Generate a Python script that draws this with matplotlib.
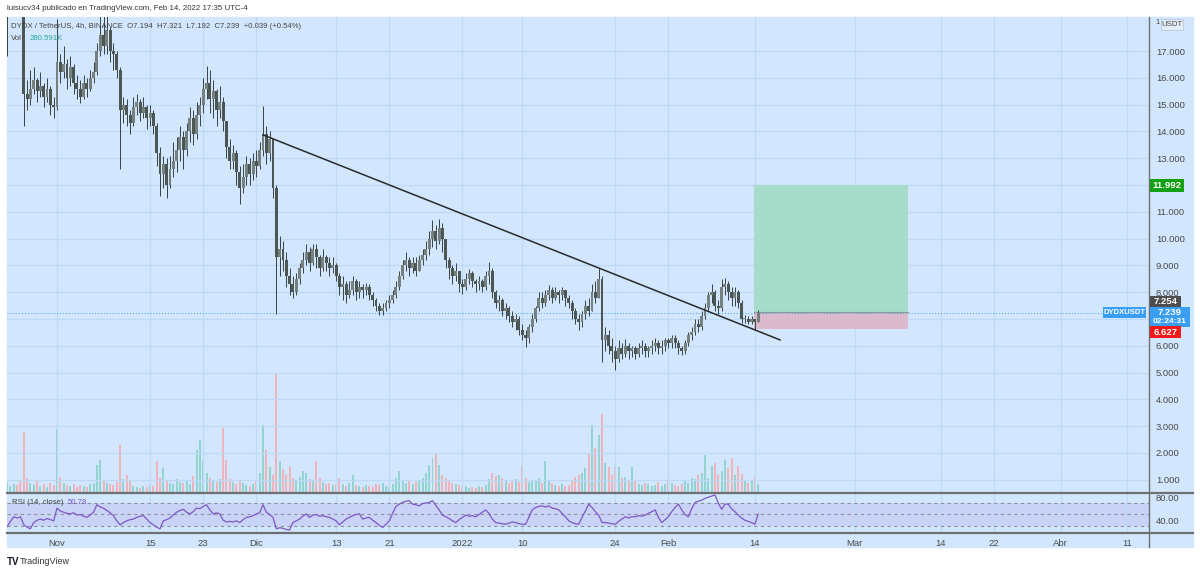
import numpy as np
import matplotlib
matplotlib.use('Agg')
import matplotlib.pyplot as plt
from matplotlib.patches import Rectangle
from matplotlib.lines import Line2D

plt.rcParams['font.family'] = ['Liberation Sans', 'DejaVu Sans']

W, H = 1200, 574

# ---------------- data (12h candles, from Oct 24 12:00) ----------------
close = [18.6, 19.2, 19.4, 18.9, 18.7, 15.4, 15.2, 15.6, 15.9, 15.5, 15.7, 15.3, 15.6, 15.0, 14.9,
         16.6, 16.2, 16.5, 16.0, 16.4, 15.8, 15.6, 15.3, 15.8, 15.6, 16.0, 16.2, 17.0, 17.6, 17.2,
         17.8, 17.0, 16.9, 16.3, 14.8, 15.0, 14.6, 14.3, 14.9, 15.1, 14.7, 14.9, 14.5, 14.7, 14.2,
         13.2, 12.4, 12.8, 12.0, 12.6, 12.9, 13.3, 13.8, 13.3, 14.0, 14.5, 13.9, 14.6, 15.0, 15.6,
         15.8, 15.2, 15.5, 14.8, 15.1, 14.4, 13.4, 12.9, 13.2, 12.5, 11.9, 12.3, 12.8, 12.4, 12.9,
         12.7, 13.3, 13.9, 13.2, 13.7, 11.9, 9.3, 9.6, 9.2, 8.6, 8.3, 8.0, 8.5, 8.9, 9.2,
         9.5, 9.1, 9.6, 9.3, 8.9, 9.3, 9.1, 8.9, 9.0, 8.6, 8.2, 8.3, 7.9, 8.1, 8.4,
         8.0, 8.2, 8.1, 8.2, 7.9, 7.7, 7.5, 7.3, 7.4, 7.6, 7.7, 7.9, 8.2, 8.6, 9.0,
         9.2, 8.9, 9.1, 8.8, 9.2, 9.4, 9.6, 10.0, 10.3, 9.9, 10.4, 10.0, 9.2, 8.9, 8.6,
         8.8, 8.3, 8.2, 8.5, 8.7, 8.4, 8.3, 8.4, 8.2, 8.6, 8.8, 8.0, 7.6, 7.7, 7.3,
         7.4, 7.1, 6.9, 7.0, 6.6, 6.4, 6.3, 6.7, 7.0, 7.4, 7.8, 7.6, 7.9, 8.1, 7.8,
         8.0, 7.9, 8.1, 7.8, 7.6, 7.3, 7.0, 6.9, 7.2, 7.5, 7.3, 8.0, 7.8, 8.5, 6.2,
         6.4, 6.0, 5.8, 5.5, 5.9, 5.7, 6.0, 5.8, 5.9, 5.7, 5.9, 6.0, 5.8, 5.9, 6.0,
         6.1, 5.9, 6.0, 6.2, 6.1, 6.3, 6.1, 5.9, 5.8, 6.1, 6.4, 6.5, 6.8, 6.7, 7.1,
         7.4, 7.9, 8.0, 7.5, 7.4, 8.2, 8.3, 8.0, 7.8, 8.0, 7.6, 7.0, 7.0, 6.9, 7.0,
         6.9, 7.239]
high = [19.0, 19.6, 19.8, 19.5, 19.1, 17.5, 15.9, 16.3, 16.4, 16.0, 16.2, 15.8, 16.0, 15.7, 15.3,
        18.2, 16.9, 17.2, 16.7, 16.8, 16.5, 16.1, 15.9, 16.1, 16.0, 16.3, 16.6, 17.3, 18.3, 18.3,
        18.3, 17.9, 17.3, 17.0, 16.4, 15.3, 15.2, 14.8, 15.3, 15.4, 15.2, 15.3, 15.0, 15.0, 14.8,
        14.3, 13.4, 13.1, 13.0, 13.1, 13.6, 13.8, 14.2, 14.0, 14.3, 14.9, 14.8, 15.1, 15.3, 16.0,
        16.45, 16.3, 15.9, 15.6, 15.7, 15.3, 14.4, 13.7, 13.5, 13.3, 12.7, 12.8, 13.1, 13.0, 13.2,
        13.3, 13.6, 14.95, 14.2, 14.0, 13.0, 12.0, 10.1, 9.9, 9.5, 8.9, 8.6, 8.7, 9.1, 9.5,
        9.8, 9.7, 9.8, 9.8, 9.4, 9.6, 9.4, 9.3, 9.3, 9.1, 8.7, 8.6, 8.4, 8.4, 8.6,
        8.5, 8.4, 8.3, 8.35, 8.3, 8.0, 7.8, 7.6, 7.6, 7.7, 7.9, 8.1, 8.4, 8.8, 9.2,
        9.5, 9.3, 9.3, 9.3, 9.4, 9.6, 9.9, 10.3, 10.7, 10.5, 10.75, 10.6, 10.0, 9.3, 9.0,
        9.1, 8.8, 8.5, 8.7, 8.85, 8.8, 8.5, 8.6, 8.5, 8.8, 9.13, 8.9, 8.1, 7.9, 7.8,
        7.6, 7.5, 7.3, 7.2, 7.1, 6.8, 6.6, 6.8, 7.2, 7.5, 8.0, 8.0, 8.1, 8.25, 8.2,
        8.2, 8.1, 8.2, 8.1, 7.9, 7.7, 7.4, 7.2, 7.3, 7.7, 7.8, 8.3, 8.4, 8.9, 8.6,
        6.7, 6.6, 6.3, 6.0, 6.2, 6.1, 6.25, 6.1, 6.0, 6.0, 6.1, 6.2, 6.1, 6.0, 6.2,
        6.3, 6.2, 6.2, 6.3, 6.3, 6.4, 6.4, 6.2, 6.0, 6.2, 6.5, 6.7, 7.0, 7.0, 7.3,
        7.6, 8.0, 8.3, 8.1, 7.7, 8.5, 8.53, 8.4, 8.2, 8.2, 8.1, 7.7, 7.15, 7.1, 7.1,
        7.0, 7.321]
low = [16.8, 18.4, 18.9, 18.6, 18.4, 14.2, 14.8, 15.0, 15.4, 15.1, 15.3, 14.9, 15.1, 14.6, 14.5,
       14.8, 15.8, 16.0, 15.6, 15.7, 15.4, 15.2, 15.06, 15.2, 15.3, 15.5, 15.8, 16.1, 16.8, 16.9,
       16.9, 16.6, 16.3, 16.0, 12.6, 14.3, 14.2, 13.9, 14.2, 14.6, 14.4, 14.5, 14.1, 14.2, 13.9,
       12.7, 11.6, 11.9, 11.5, 11.9, 12.3, 12.5, 12.9, 12.6, 13.1, 13.6, 13.5, 13.7, 14.2, 14.7,
       15.2, 14.7, 14.5, 14.2, 14.5, 14.0, 13.0, 12.6, 12.6, 12.0, 11.3, 11.7, 12.0, 12.0, 12.2,
       12.3, 12.6, 13.1, 12.8, 12.9, 11.5, 7.2, 8.6, 8.8, 8.2, 7.9, 7.8, 7.9, 8.3, 8.7,
       9.0, 8.8, 9.0, 8.9, 8.6, 8.8, 8.8, 8.6, 8.7, 8.4, 7.9, 7.7, 7.6, 7.8, 7.9,
       7.7, 7.8, 7.8, 7.9, 7.7, 7.5, 7.3, 7.15, 7.15, 7.3, 7.4, 7.6, 7.8, 8.1, 8.5,
       8.8, 8.6, 8.7, 8.6, 8.8, 9.0, 9.2, 9.4, 9.7, 9.6, 9.8, 9.5, 8.9, 8.5, 8.3,
       8.4, 8.0, 7.95, 8.1, 8.3, 8.2, 8.0, 8.1, 8.0, 8.1, 8.3, 7.8, 7.4, 7.3, 7.1,
       7.0, 6.9, 6.7, 6.6, 6.4, 6.2, 5.96, 6.1, 6.5, 6.9, 7.3, 7.4, 7.5, 7.7, 7.6,
       7.7, 7.6, 7.7, 7.5, 7.4, 7.0, 6.8, 6.6, 6.7, 7.0, 7.1, 7.3, 7.6, 7.8, 5.4,
       5.8, 5.7, 5.4, 5.1, 5.4, 5.5, 5.6, 5.5, 5.6, 5.5, 5.6, 5.7, 5.6, 5.6, 5.7,
       5.8, 5.7, 5.7, 5.8, 5.9, 5.9, 5.9, 5.7, 5.65, 5.7, 6.0, 6.2, 6.4, 6.5, 6.6,
       7.0, 7.3, 7.6, 7.3, 7.2, 7.3, 7.9, 7.7, 7.5, 7.5, 7.4, 6.85, 6.85, 6.8, 6.8,
       6.6, 6.9]
first_open = 18.3
volume = [1100, 700, 900, 800, 1200, 6100, 1500, 1000, 800, 1300, 700, 900, 600, 1000, 800,
          6400, 1600, 1000, 800, 700, 900, 600, 800, 700, 600, 900, 1000, 2800, 3300, 1300,
          1000, 900, 800, 1100, 4800, 1400, 1800, 1200, 700, 600, 500, 700, 600, 800, 700,
          3200, 1500, 2500, 1200, 1000, 900, 1400, 1100, 1000, 1300, 900, 1700, 4300, 5300, 3200,
          2000, 1500, 1200, 1100, 1400, 6500, 3300, 1400, 1100, 900, 1300, 1000, 800, 700, 900,
          1200, 2000, 6800, 4300, 2600, 1800, 11900, 3200, 2400, 1800, 2600, 1500, 1200, 1600, 2200,
          2000, 1400, 1200, 3200, 1500, 1100, 900, 1000, 800, 900, 1500, 900, 700, 1000, 1800,
          800, 700, 600, 800, 700, 600, 900, 800, 1000, 700, 600, 900, 1500, 2200, 1300,
          1000, 1200, 900, 1100, 1300, 1500, 2000, 2800, 3500, 4000, 2800, 1800, 1500, 1200, 1000,
          900, 800, 600, 700, 500, 600, 500, 700, 600, 800, 1400, 2000, 1700, 1800, 1500,
          1200, 1000, 1200, 1400, 1100, 2700, 1500, 1100, 1300, 1200, 1500, 1000, 3200, 1300, 1000,
          800, 700, 900, 700, 800, 1200, 1600, 1800, 2000, 2500, 4000, 6800, 4500, 5800, 7900,
          3000, 2600, 1800, 2600, 2600, 1500, 1600, 1200, 2600, 1300, 900, 800, 1000, 900, 700,
          800, 1100, 700, 900, 1200, 1000, 800, 700, 900, 1200, 1000, 1500, 1400, 1800, 2000,
          3800, 1500, 2700, 3000, 1800, 2200, 3300, 2500, 3500, 1800, 2700, 1900, 1200, 1000, 1300,
          1600, 900]
rsi = [29, 38, 46, 44, 46, 32, 28, 25, 36, 40, 42, 40, 43, 41, 39,
       61, 56, 54, 52, 51, 53, 49, 50, 47, 45, 49, 54, 67, 63, 61,
       57, 53, 48, 39, 32, 36, 39, 41, 42, 45, 47, 48, 42, 36, 32,
       28, 25, 39, 41, 44, 49, 54, 57, 59, 54, 51, 55, 61, 60, 64,
       67, 58, 51, 53, 51, 40, 37, 38, 37, 39, 36, 41, 45, 46, 48,
       51, 53, 67, 54, 50, 45, 25, 27, 26, 24, 23, 36, 39, 42, 47,
       51, 45, 49, 50, 47, 48, 46, 45, 42, 39, 32, 37, 42, 45, 48,
       50, 51, 42, 44, 45, 40, 36, 31, 27.5, 33, 39, 52, 64, 68, 71,
       73, 74, 68, 67, 65, 69, 70, 71, 74, 66, 58, 49, 46, 43, 39,
       36, 41, 45, 49, 47, 48, 46, 50, 54, 58, 52, 42, 36, 35, 34,
       33, 35, 37, 36, 34, 33, 33, 45, 58, 62, 64, 65, 63, 65, 61,
       60, 58, 52, 46, 39, 36, 34, 33, 45, 56, 68, 62, 55, 49, 36,
       36, 35, 34, 33, 38, 42, 46, 44, 46, 46, 48, 47, 49, 52, 55,
       58, 45, 36, 41, 46, 55, 62, 68, 58, 50, 46, 60, 71, 73, 75,
       78, 80, 82, 84, 70, 59, 68, 68, 60, 55, 49, 44, 40, 38, 36,
       33, 50.78]

start_day = -7.5        # days relative to Nov 1 (first candle)
candle_step = 0.5       # 12h
tick_days = [0, 14, 22, 30, 42, 50, 61, 70, 84, 92, 105, 120, 133, 141, 151, 161]
tick_labels = ['Nov', '15', '23', 'Dic', '13', '21', '2022', '10', '24', 'Feb', '14',
               'Mar', '14', '22', 'Abr', '11']
price_ticks = list(range(1, 18))
rsi_ticks = [40, 80]
rsi_levels = [30, 50, 70]

trend_days = [31.0, 108.8]
trend_prices = [13.87, 6.22]
pos_days = [104.9, 128.0]
entry_price, target_price, stop_price, last_price = 7.254, 11.992, 6.627, 7.239

# ---------------- styling ----------------
BG = '#d2e7fd'
GRID = '#bdd9f6'
SEP = '#6d7073'
TXT = '#4a4a4a'

n = min(len(close), len(high), len(low), len(volume))
close_a = np.array(close[:n]); high_a = np.array(high[:n]); low_a = np.array(low[:n])
open_a = np.r_[first_open, close_a[:-1]]
t = start_day + candle_step * np.arange(n)
up = close_a >= open_a

fig = plt.figure(figsize=(W / 100, H / 100), dpi=100)
fig.patch.set_facecolor('white')

def fx(px):
    return px / W

def fy(py):
    return 1 - py / H

fig.patches.append(Rectangle((fx(7), fy(547)), fx(1193) - fx(7), fy(17) - fy(547),
                             transform=fig.transFigure, color=BG, zorder=0))

xlim = ((7 - 57) / 6.646, (1149 - 57) / 6.646)
rect_main = [fx(7), fy(493), fx(1149) - fx(7), fy(17) - fy(493)]

# volume axes (behind)
axv = fig.add_axes(rect_main, zorder=1)
axv.set_facecolor('none')
axv.set_xlim(*xlim)
axv.set_ylim(0, max(volume) * 476 / 119)
vcol = np.where(up, '#93d3d0', '#eeb3bb')
axv.bar(t, volume[:n], width=0.3, color=vcol, linewidth=0)
axv.axis('off')

# price axes
ax = fig.add_axes(rect_main, zorder=2)
ax.set_facecolor('none')
ax.set_xlim(*xlim)
ax.set_ylim(0.507, 18.269)
for s in ax.spines.values():
    s.set_visible(False)
ax.set_xticks(tick_days)
ax.set_xticklabels([])
ax.set_yticks(price_ticks)
ax.set_yticklabels(['' if p in (7, 12) else f'{p:.3f}' for p in price_ticks])
ax.yaxis.tick_right()
ax.tick_params(axis='both', length=0)
ax.tick_params(axis='y', labelsize=6.8, labelcolor=TXT, pad=5)
ax.grid(True, color=GRID, linewidth=0.9)
ax.set_axisbelow(True)

# position box
ax.add_patch(Rectangle((pos_days[0], entry_price), pos_days[1] - pos_days[0],
                       target_price - entry_price, facecolor='#a6dcc9', edgecolor='none', zorder=1.5))
ax.add_patch(Rectangle((pos_days[0], stop_price), pos_days[1] - pos_days[0],
                       entry_price - stop_price, facecolor='#dcbacd', edgecolor='none', zorder=1.5))
ax.plot(pos_days, [entry_price, entry_price], color='#8a9a96', lw=0.8, zorder=1.6)

# last price dotted line
ax.axhline(last_price, xmax=(1103 - 7) / (1149 - 7), color='#3d9df0', lw=0.7,
           linestyle=(0, (1, 2)), zorder=1.7)

# candles
ax.vlines(t, low_a, high_a, color='#3a4242', lw=0.7, zorder=3)
body_lo = np.minimum(open_a, close_a)
body_h = np.maximum(np.abs(close_a - open_a), 0.03)
ax.bar(t, body_h, bottom=body_lo, width=0.44,
       color=np.where(up, '#76817f', '#4c5655'), linewidth=0, zorder=3.2)

# trend line
ax.plot(trend_days, trend_prices, color='#2a2a2a', lw=1.1, zorder=4)

# RSI axes
axr = fig.add_axes([fx(7), fy(533), fx(1149) - fx(7), fy(494) - fy(533)], zorder=2)
axr.set_facecolor('none')
axr.set_xlim(*xlim)
axr.set_ylim(17.8, 85.65)
for s in axr.spines.values():
    s.set_visible(False)
axr.axhspan(rsi_levels[0], rsi_levels[2], color='#c8d3f7', zorder=0.5, lw=0)
for lv in rsi_levels:
    axr.axhline(lv, color='#8d8f99', lw=0.8, linestyle=(0, (3, 3)), zorder=1)
axr.plot(start_day + candle_step * np.arange(len(rsi)), rsi, color='#7e57c2', lw=0.9, zorder=3)
axr.set_xticks(tick_days)
axr.set_xticklabels(tick_labels)
axr.set_yticks(rsi_ticks)
axr.set_yticklabels([f'{v:.2f}' for v in rsi_ticks])
axr.yaxis.tick_right()
axr.tick_params(axis='both', length=0, labelsize=6.8, labelcolor=TXT)
axr.tick_params(axis='x', pad=4)
axr.tick_params(axis='y', pad=5)
axr.grid(True, axis='x', color=GRID, linewidth=0.9)
axr.set_axisbelow(True)

# separators
for py in (493, 533):
    fig.add_artist(Line2D([fx(7), fx(1193)], [fy(py), fy(py)], color=SEP, lw=1.6,
                          transform=fig.transFigure, zorder=5))
fig.add_artist(Line2D([fx(1149), fx(1149)], [fy(17), fy(547)], color=SEP, lw=1.0,
                      transform=fig.transFigure, zorder=5))

# price labels on right scale
fig.canvas.draw()
def ypx(p):
    return H - ax.transData.transform((0, p))[1]

def label_box(x0, x1, y0, y1, fc, lines, sizes, ys, bold=True):
    fig.add_artist(Rectangle((fx(x0), fy(y1)), fx(x1) - fx(x0), fy(y0) - fy(y1),
                             transform=fig.transFigure, facecolor=fc, edgecolor='none', zorder=8))
    for s, fs, yy in zip(lines, sizes, ys):
        fig.text(fx((x0 + x1) / 2), fy(yy), s, ha='center', va='center', fontsize=fs,
                 color='white', fontweight='bold' if bold else 'normal', zorder=9)

yt = ypx(target_price)
label_box(1150, 1184, yt - 6.5, yt + 6.5, '#14a014', ['11.992'], [6.8], [yt])
ye = ypx(entry_price)
label_box(1150, 1181, ye - 16.5, ye - 4.5, '#4e4e4e', ['7.254'], [6.8], [ye - 10.5])
yl = ypx(last_price)
label_box(1150, 1190, yl - 6, yl + 14, '#3a9ef2', ['7.239', '02:24:31'], [6.8, 6.0], [yl, yl + 9])
label_box(1103, 1146, yl - 5.5, yl + 5.5, '#3a9ef2', ['DYDXUSDT'], [5.5], [yl])
ys = ypx(stop_price)
label_box(1150, 1181, ys - 2.5, ys + 9.5, '#f01818', ['6.627'], [6.8], [ys + 3.5])

# USDT tag at top of scale
fig.text(fx(1155), fy(22), '1', fontsize=5.5, color=TXT, va='center')
fig.add_artist(Rectangle((fx(1161), fy(30)), fx(1183) - fx(1161), fy(19) - fy(30),
                         transform=fig.transFigure, facecolor='#e4eefa', edgecolor='#b8c8da',
                         lw=0.6, zorder=8))
fig.text(fx(1172), fy(24.5), 'USDT', fontsize=5.6, color=TXT, ha='center', va='center', zorder=9)

# header & legends
fig.text(fx(7), fy(9), 'luisucv34 publicado en TradingView.com, Feb 14, 2022 17:35 UTC-4',
         fontsize=5.7, color='#333333', va='center')
fig.text(fx(11), fy(26.5),
         'DYDX / TetherUS, 4h, BINANCE  O7.194  H7.321  L7.192  C7.239  +0.039 (+0.54%)',
         fontsize=5.6, color='#444444', va='center', zorder=10)
fig.text(fx(11), fy(38), 'Vol', fontsize=5.6, color='#444444', va='center', zorder=10)
fig.text(fx(30), fy(38), '280.591K', fontsize=5.6, color='#26a69a', va='center', zorder=10)
fig.text(fx(12), fy(503), 'RSI (14, close)', fontsize=5.6, color='#444444', va='center', zorder=10)
fig.text(fx(68), fy(503), '50.78', fontsize=5.6, color='#7e57c2', va='center', zorder=10)

# footer logo
fig.text(fx(7), fy(562), 'TV', fontsize=7, color='#131722', fontweight='bold', va='center')
fig.text(fx(20), fy(562), 'TradingView', fontsize=6.5, color='#333333', va='center')

fig.savefig('out.png', dpi=100, facecolor='white')
